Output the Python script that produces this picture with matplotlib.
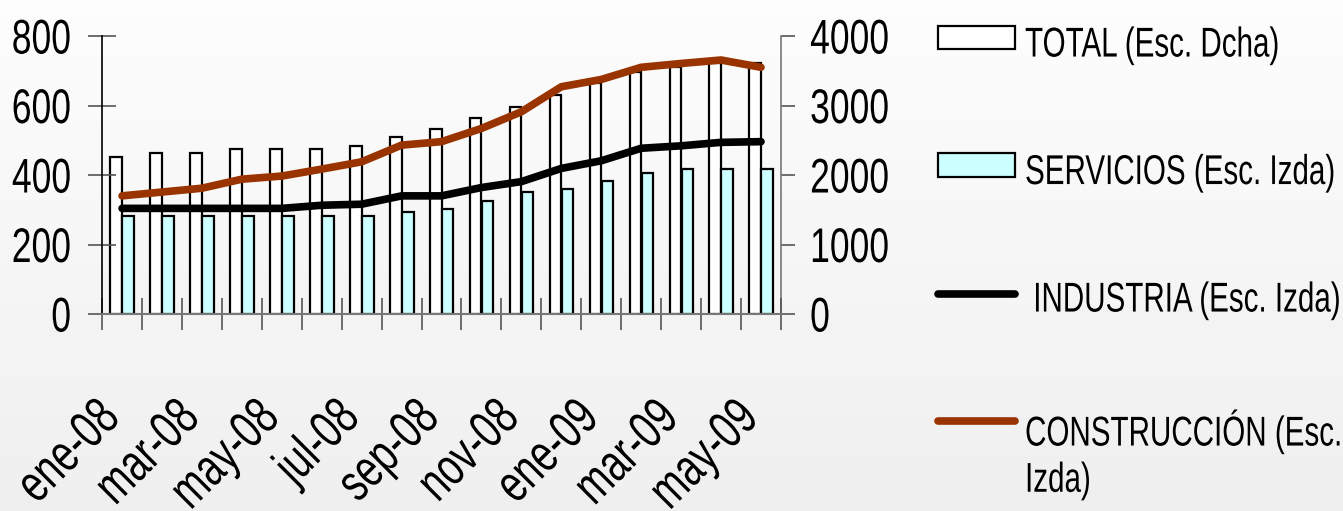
import matplotlib
matplotlib.use("Agg")
import matplotlib.pyplot as plt
import numpy as np
from matplotlib.lines import Line2D
from matplotlib.patches import Patch
from matplotlib.patheffects import AbstractPathEffect
from matplotlib.transforms import Affine2D

months = ['ene-08', 'feb-08', 'mar-08', 'abr-08', 'may-08', 'jun-08', 'jul-08',
          'ago-08', 'sep-08', 'oct-08', 'nov-08', 'dic-08', 'ene-09', 'feb-09',
          'mar-09', 'abr-09', 'may-09']
total = [2263, 2312, 2312, 2370, 2370, 2370, 2422, 2542, 2657, 2816, 2983,
         3151, 3319, 3477, 3560, 3615, 3610]
servicios = [282, 282, 282, 282, 282, 282, 282, 294, 302, 326, 350, 360, 383,
             407, 417, 417, 417]
industria = [304, 304, 304, 304, 304, 313, 316, 340, 340, 364, 381, 419, 441,
             477, 484, 494, 496]
construccion = [340, 351, 362, 388, 397, 417, 438, 486, 496, 534, 582, 654,
                675, 710, 721, 731, 710]
labels = ['TOTAL (Esc. Dcha)', 'SERVICIOS (Esc. Izda)', ' INDUSTRIA (Esc. Izda)',
          'CONSTRUCCIÓN (Esc.\nIzda)']

plt.rcParams['font.family'] = ['Liberation Sans', 'DejaVu Sans']


class Condense(AbstractPathEffect):
    # squeeze glyphs sideways to look like a narrow font
    def __init__(self, sx=0.73, anchor='left'):
        super().__init__()
        self.sx = sx
        self.anchor = anchor

    def draw_path(self, renderer, gc, tpath, affine, rgbFace=None):
        x0 = 0.0
        if self.anchor == 'right':
            x0 = tpath.get_extents().x1
        pre = Affine2D().translate(-x0, 0).scale(self.sx, 1).translate(x0, 0)
        renderer.draw_path(gc, tpath, pre + affine, rgbFace)


fig = plt.figure(figsize=(13.43, 5.11), dpi=100)
bg = fig.add_axes([0, 0, 1, 1], zorder=-10)
bg.imshow(np.linspace(0.99, 0.935, 256)[:, None], aspect='auto', cmap='gray',
          vmin=0, vmax=1, extent=[0, 1, 0, 1])
bg.axis('off')

ax = fig.add_axes([0.076, 0.3855, 0.5055, 0.544])
ax2 = ax.twinx()
ax.set_zorder(ax2.get_zorder() + 1)
ax.patch.set_visible(False)
ax2.patch.set_visible(False)

x = np.arange(len(months))
w = 0.29
ax2.bar(x - 0.145, total, w, color='white', edgecolor='black', linewidth=1.6)
ax.bar(x + 0.155, servicios, w, color='#ccffff', edgecolor='black', linewidth=1.6)
ax.plot(x, industria, color='black', lw=5.5, solid_capstyle='round')
ax.plot(x, construccion, color='#993300', lw=5.5, solid_capstyle='round')

ax.set_xlim(-0.5, len(months) - 0.5)
ax.set_ylim(0, 800)
ax2.set_ylim(0, 4000)
ax.set_yticks(range(0, 801, 200))
ax2.set_yticks(range(0, 4001, 1000))

ax.set_xticks(x[::2])
ax.set_xticklabels(months[::2], rotation=45, ha='right', va='baseline',
                   rotation_mode='anchor')
ax.set_xticks(np.arange(-0.5, len(months)), minor=True)
ax.tick_params(axis='x', which='major', length=0, pad=76, labelsize=38)
ax.tick_params(axis='x', which='minor', direction='inout', length=23,
               color='#555555', width=1.2)
ax.tick_params(axis='y', direction='inout', length=20, width=1.2,
               color='#555555', labelsize=35, pad=12)
ax2.tick_params(axis='y', direction='out', length=10, width=1.2,
                color='#555555', labelsize=35, pad=11)

for s in ['top', 'right']:
    ax.spines[s].set_visible(False)
for s in ['top', 'left', 'bottom']:
    ax2.spines[s].set_visible(False)
ax.spines['left'].set_color('black')
ax.spines['left'].set_linewidth(1.2)
ax.spines['bottom'].set_color('#777777')
ax.spines['bottom'].set_linewidth(1.5)
ax2.spines['right'].set_color('#777777')
ax2.spines['right'].set_linewidth(1.2)

handles = [
    Patch(facecolor='white', edgecolor='black', linewidth=1.6),
    Patch(facecolor='#ccffff', edgecolor='black', linewidth=1.6),
    Line2D([], [], color='black', lw=5.5, solid_capstyle='round'),
    Line2D([], [], color='#993300', lw=5.5, solid_capstyle='round'),
]
leg = fig.legend(handles, labels, loc='upper left', bbox_to_anchor=(0.6984, 0.95),
                 frameon=False, fontsize=30, handlelength=1.85, handleheight=0.5,
                 handletextpad=0.24, labelspacing=2.1, borderpad=0,
                 borderaxespad=0)
for col in leg._legend_handle_box.get_children():
    for row in col.get_children():
        row.align = 'top'

for t in ax.get_yticklabels() + ax.get_xticklabels():
    t.set_path_effects([Condense(anchor='right')])
for t in ax2.get_yticklabels():
    t.set_path_effects([Condense(anchor='left')])
for t in leg.get_texts():
    t.set_path_effects([Condense(sx=0.71, anchor='left')])

fig.savefig('out.png', dpi=100)
